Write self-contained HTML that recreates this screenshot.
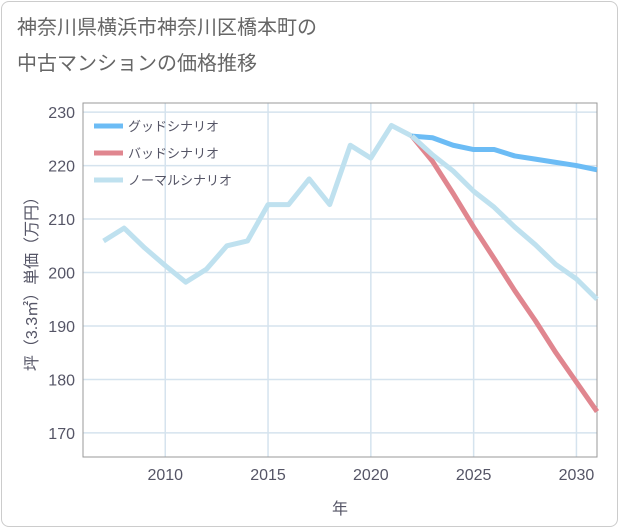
<!DOCTYPE html>
<html><head><meta charset="utf-8"><style>
body{margin:0;background:#fff;font-family:"Liberation Sans","Noto Sans CJK JP",sans-serif;}
#wrap{position:relative;width:621px;height:530px;}
#frame{position:absolute;left:1px;top:1px;width:617px;height:526px;border:1px solid #ccc;border-radius:8px;box-sizing:border-box;}
#title{position:absolute;left:17px;top:10px;font-size:20px;line-height:36px;color:#666;}
</style></head><body>
<div id="wrap">
<div id="frame"></div>
<div id="title">神奈川県横浜市神奈川区橋本町の<br>中古マンションの価格推移</div>
<svg id="chart" width="621" height="530" style="position:absolute;left:0;top:0"></svg>
</div>
<script>
const histYears=[2007,2008,2009,2010,2011,2012,2013,2014,2015,2016,2017,2018,2019,2020,2021,2022];
const histValues=[205.9,208.3,204.6,201.3,198.2,200.6,205.0,205.9,212.7,212.7,217.5,212.7,223.8,221.4,227.5,225.5];
const futYears=[2022,2023,2024,2025,2026,2027,2028,2029,2030,2031];
const goodValues=[225.5,225.2,223.8,223.0,223.0,221.8,221.2,220.6,220.0,219.2];
const badValues=[225.5,220.8,214.8,208.5,202.6,196.6,191.0,185.0,179.5,174.0];
const normalValues=[225.5,222.0,219.0,215.2,212.2,208.5,205.2,201.5,198.8,195.0];
const yTicks=[170,180,190,200,210,220,230];
const xTicks=[2010,2015,2020,2025,2030];
const legendLabels=["グッドシナリオ","バッドシナリオ","ノーマルシナリオ"];

const L=83,R=597,T=103,B=457,x0=2006,x1=2031,y0=165.5,y1=231.7;
const sx=v=>L+(v-x0)/(x1-x0)*(R-L);
const sy=v=>B-(v-y0)/(y1-y0)*(B-T);
const svg=document.getElementById('chart');
const NS='http://www.w3.org/2000/svg';
function mk(tag,attrs){const e=document.createElementNS(NS,tag);for(const k in attrs)e.setAttribute(k,attrs[k]);svg.appendChild(e);return e;}
yTicks.forEach(v=>{
 const l=mk('line',{x1:L,x2:R,y1:sy(v),y2:sy(v),stroke:'#d5e3ee','stroke-width':1.5});
 
 
 const t=mk('text',{x:L-8,y:sy(v)+6,'text-anchor':'end','font-size':16,fill:'#556'});
 t.textContent=v;
 
 
});
xTicks.forEach(v=>{
 const l=mk('line',{x1:sx(v),x2:sx(v),y1:T,y2:B,stroke:'#d5e3ee','stroke-width':1.5});
 
 
 const t=mk('text',{x:sx(v),y:B+23,'text-anchor':'middle','font-size':16,fill:'#556'});
 t.textContent=v;
 
 
});
const ax=mk('rect',{x:L,y:T,width:R-L,height:B-T,fill:'none',stroke:'#999','stroke-width':1});


function line(xs,ys,color,name){
 const p=mk('polyline',{points:xs.map((x,i)=>sx(x)+','+sy(ys[i])).join(' '),fill:'none',stroke:color,'stroke-width':5,'stroke-linejoin':'round'});
 
 
}
line(histYears,histValues,'#bfe1ef','normal-history-line');
line(futYears,goodValues,'#6cbcf5','good-scenario-line');
line(futYears,badValues,'#e0868f','bad-scenario-line');
line(futYears,normalValues,'#bfe1ef','normal-scenario-line');
const lc=['#6cbcf5','#e0868f','#bfe1ef'];
legendLabels.forEach((s,i)=>{
 const y=126+i*27;
 const l=mk('line',{x1:94,x2:123,y1:y,y2:y,stroke:lc[i],'stroke-width':5});
 
 
 const t=mk('text',{x:128,y:y+5,'font-size':13,fill:'#556'});
 t.textContent=s;
 
 
});
const xt=mk('text',{x:(L+R)/2,y:514,'text-anchor':'middle','font-size':16,fill:'#556'});
xt.textContent='年';


const yt=mk('text',{x:0,y:0,'text-anchor':'middle','font-size':16,fill:'#556',transform:'translate(37,'+((T+B)/2)+') rotate(-90)'});
yt.textContent='坪（3.3㎡）単価（万円）';


</script>
</body></html>
